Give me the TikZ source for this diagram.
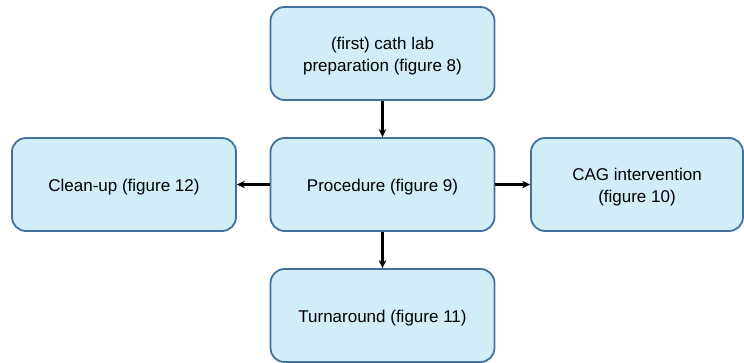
\documentclass[tikz,border=0pt]{standalone}
\usepackage{fontspec}
\setmainfont{Liberation Sans}
\usetikzlibrary{arrows.meta}
\definecolor{boxfill}{HTML}{D0EDF8}
\definecolor{boxline}{HTML}{41719C}
\begin{document}
\begin{tikzpicture}[x=1pt,y=-1pt,
  box/.style={draw=boxline, fill=boxfill, line width=1.8pt, rounded corners=14pt,
    minimum width=224pt, minimum height=93pt, inner sep=0pt},
  txt/.style={align=center, inner sep=0pt, yshift=-2.5pt,
    font=\fontsize{17}{21.5}\selectfont},
  conn/.style={draw=black, line width=2.2pt, -{Stealth[length=8pt,width=7.5pt]}}]
\useasboundingbox (0,0) rectangle (744,362);
\node[box, label={[txt]center:(first) cath lab\\preparation (figure 8)}] (prep) at (382.5,53.5) {};
\node[box, label={[txt]center:Procedure (figure 9)}] (proc) at (382.5,184.5) {};
\node[box, label={[txt]center:Clean-up (figure 12)}] (clean) at (124,184.5) {};
\node[box, minimum width=212pt, label={[txt]center:CAG intervention\\(figure 10)}] (cag) at (637,184.5) {};
\node[box, label={[txt]center:Turnaround (figure 11)}] (turn) at (382.5,315.5) {};
\draw[conn] (prep.south) -- (proc.north);
\draw[conn] (proc.west) -- (clean.east);
\draw[conn] (proc.east) -- (cag.west);
\draw[conn] (proc.south) -- (turn.north);
\end{tikzpicture}
\end{document}
